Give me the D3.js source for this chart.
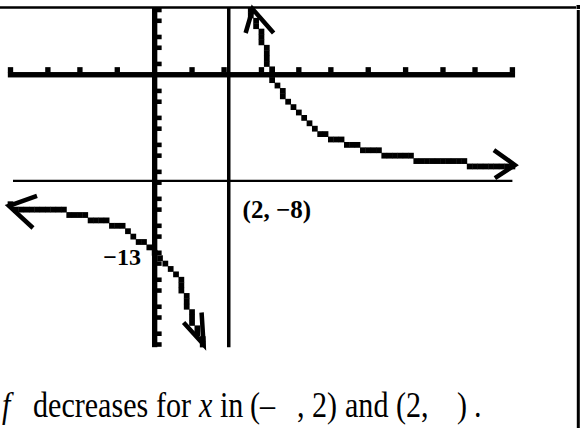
<!DOCTYPE html>
<html>
<head>
<meta charset="utf-8">
<script src="https://cdn.jsdelivr.net/npm/d3@7"></script>
<style>
  html, body { margin: 0; padding: 0; background: #fff; }
  svg { display: block; }
</style>
</head>
<body>
<svg id="chart" width="588" height="428"></svg>
<script>
// Calculator viewing window
const xWindow = [-4, 10];
const yWindow = [5, -20];

// f(x) left of the vertical asymptote
const leftBranchX = [-4.0, -2.8, -2.4, -1.7, -1.2, -0.8, -0.5, -0.16, 0, 0.39, 0.64, 0.84, 0.98, 1.33];
const leftBranchY = [-9.7, -9.9, -10.2, -10.6, -10.9, -11.4, -12.0, -12.7, -13, -14.1, -14.8, -15.9, -17.2, -20];

// f(x) right of the vertical asymptote
const rightBranchX = [2.74, 2.88, 3.09, 3.17, 3.32, 3.57, 3.88, 4.07, 4.44, 4.74, 5.08, 5.41, 5.97, 6.78, 7.9, 9.32, 10];
const rightBranchY = [5, 3.65, 2.2, 0.9, -0.3, -1.2, -2.3, -2.85, -3.7, -4.3, -4.7, -5.05, -5.5, -5.9, -6.3, -6.6, -6.7];

// Tick marks (scale 1 on both axes)
const xTickValues = [-4, -3, -2, -1, 1, 2, 3, 4, 5, 6, 7, 8, 9, 10];
const yTickValues = [5, 4, 3, 2, 1, -1, -2, -3, -4, -5, -6, -7, -8, -9, -10, -11, -12, -13, -14, -15, -16, -17, -18, -19, -20];

// Asymptotes and labelled points
const asymptoteX = 2;
const asymptoteY = -8;
const asymptoteLabel = "(2, \u22128)";
const interceptX = 0;
const interceptY = -13;
const interceptLabel = "\u221213";

// Caption pieces: [left edge, text, italic]
const captionPieces = [
  [2, "f", true],
  [33, "decreases", false],
  [156, "for", false],
  [199, "x", true],
  [220, "in", false],
  [250, "(\u2013", false],
  [297, ",", false],
  [312, "2)", false],
  [345, "and", false],
  [396, "(2,", false],
  [457, ")", false],
  [474, ".", false]
];

const svg = d3.select("#chart");

// Screen: 95 x 63 calculator pixels
const cols = 95, rows = 63;
const x = d3.scaleLinear().domain(xWindow).range([10.5, 512.4]);
const y = d3.scaleLinear().domain(yWindow).range([10, 344.5]);
const cw = (x.range()[1] - x.range()[0]) / (cols - 1);
const ch = (y.range()[1] - y.range()[0]) / (rows - 1);
const colOf = v => Math.round((x(v) - x.range()[0]) / cw);
const rowOf = v => Math.round((y(v) - y.range()[0]) / ch);
const cellLeft = c => x.range()[0] + (c - 0.5) * cw;
const cellTop = r => y.range()[0] + (r - 0.5) * ch;

// Frame: top rule and right rule
svg.append("line").attr("x1", 0).attr("x2", 576).attr("y1", 7.5).attr("y2", 7.5)
  .attr("stroke", "#000").attr("stroke-width", 2.5);
svg.append("rect").attr("x", 576.5).attr("y", 5).attr("width", 3.5).attr("height", 4).attr("fill", "#000");
svg.append("line").attr("x1", 578.3).attr("x2", 578.3).attr("y1", 10).attr("y2", 428)
  .attr("stroke", "#000").attr("stroke-width", 3);

const screen = svg.append("g").attr("class", "screen");

// Axes drawn in screen pixels
const xAxisRow = rowOf(0);
const yAxisCol = colOf(0);
screen.append("rect")
  .attr("x", cellLeft(0)).attr("y", cellTop(xAxisRow))
  .attr("width", cols * cw).attr("height", ch).attr("fill", "#000");
screen.append("rect")
  .attr("x", cellLeft(yAxisCol)).attr("y", cellTop(0))
  .attr("width", cw).attr("height", rows * ch).attr("fill", "#000");

screen.selectAll("rect.xtick").data(xTickValues).join("rect")
  .attr("class", "xtick")
  .attr("x", d => cellLeft(colOf(d)))
  .attr("y", cellTop(xAxisRow - 1) + 0.5)
  .attr("width", cw).attr("height", ch)
  .attr("fill", "#000");

screen.selectAll("rect.ytick").data(yTickValues).join("rect")
  .attr("class", "ytick")
  .attr("x", cellLeft(yAxisCol + 1) - 0.5)
  .attr("y", d => cellTop(rowOf(d)) + 0.4)
  .attr("width", cw * 0.9).attr("height", ch * 0.85)
  .attr("fill", "#000");

// Asymptotes
const vx = cellLeft(colOf(asymptoteX)) + cw + 2;
svg.append("line")
  .attr("x1", vx).attr("x2", vx)
  .attr("y1", cellTop(0)).attr("y2", cellTop(rows))
  .attr("stroke", "#000").attr("stroke-width", 3.5);
const hy = cellTop(rowOf(asymptoteY)) + 1;
svg.append("line")
  .attr("x1", x(xWindow[0]) + 2.5).attr("x2", x(xWindow[1]))
  .attr("y1", hy).attr("y2", hy)
  .attr("stroke", "#000").attr("stroke-width", 2.2);

// Rasterise a branch column by column in connected mode
function rasterize(xs, ys) {
  const fc = xs.map(v => (x(v) - x.range()[0]) / cw);
  const fr = ys.map(v => (y(v) - y.range()[0]) / ch);
  const rowAt = d3.scaleLinear().domain(fc).range(fr).clamp(true);
  const c0 = Math.round(fc[0]), c1 = Math.round(fc[fc.length - 1]);
  const cells = new Map();
  const put = (c, r) => {
    if (r >= 0 && r < rows && c >= 0 && c < cols) cells.set(c + "," + r, { c, r });
  };
  let prev = null;
  for (let c = c0; c <= c1; c++) {
    const r = Math.round(rowAt(c));
    if (prev) {
      const n = Math.max(1, Math.abs(r - prev.r));
      for (let k = 0; k <= n; k++) {
        put(Math.round(prev.c + k / n), Math.round(prev.r + (r - prev.r) * k / n));
      }
    } else {
      put(c, r);
    }
    prev = { c, r };
  }
  return Array.from(cells.values());
}

const branches = [
  rasterize(leftBranchX, leftBranchY),
  rasterize(rightBranchX, rightBranchY)
];

screen.selectAll("g.branch").data(branches).join("g")
  .attr("class", "branch")
  .selectAll("rect").data(d => d).join("rect")
  .attr("x", d => cellLeft(d.c) - 0.2)
  .attr("y", d => cellTop(d.r) - 0.2)
  .attr("width", cw + 0.4)
  .attr("height", ch + 0.4)
  .attr("fill", "#000");

// Arrowheads at the ends of each branch (arm offsets in px)
const arrowHeads = [
  { tip: [x(leftBranchX[0]) - 1.5, y(leftBranchY[0]) - 0.7], arms: [[28, -10], [24, 22]] },
  { tip: [x(leftBranchX[leftBranchX.length - 1]) + 2, y(leftBranchY[leftBranchY.length - 1])], arms: [[-20, -22], [-2, -32]] },
  { tip: [x(rightBranchX[0]) + 0.5, y(rightBranchY[0]) - 1], arms: [[-7, 24], [21, 24]] },
  { tip: [x(rightBranchX[rightBranchX.length - 1]) + 2.5, y(rightBranchY[rightBranchY.length - 1]) - 1.5], arms: [[-21, -15], [-20, 13]] }
];
svg.selectAll("path.arrow").data(arrowHeads).join("path")
  .attr("class", "arrow")
  .attr("d", d => {
    const [tx, ty] = d.tip;
    const [a, b] = d.arms;
    return `M${tx + a[0]},${ty + a[1]}L${tx},${ty}L${tx + b[0]},${ty + b[1]}`;
  })
  .attr("fill", "none")
  .attr("stroke", "#000")
  .attr("stroke-width", 4.5)
  .attr("stroke-linejoin", "miter");

// Labels
svg.append("text")
  .attr("x", x(asymptoteX) + 17).attr("y", y(asymptoteY) + 34)
  .attr("font-family", "'Liberation Serif', serif")
  .attr("font-weight", "bold").attr("font-size", 25)
  .text(asymptoteLabel);

svg.append("text")
  .attr("x", x(interceptX) - 13).attr("y", y(interceptY) + 14)
  .attr("text-anchor", "end")
  .attr("font-family", "'Liberation Serif', serif")
  .attr("font-weight", "bold").attr("font-size", 24)
  .text(interceptLabel);

// Caption
svg.selectAll("text.caption").data(captionPieces).join("text")
  .attr("class", "caption")
  .attr("transform", d => `translate(${d[0]},417) scale(0.86,1)`)
  .attr("font-family", "'Liberation Serif', serif")
  .attr("font-size", 35)
  .attr("font-style", d => d[2] ? "italic" : "normal")
  .text(d => d[1]);
</script>
</body>
</html>
